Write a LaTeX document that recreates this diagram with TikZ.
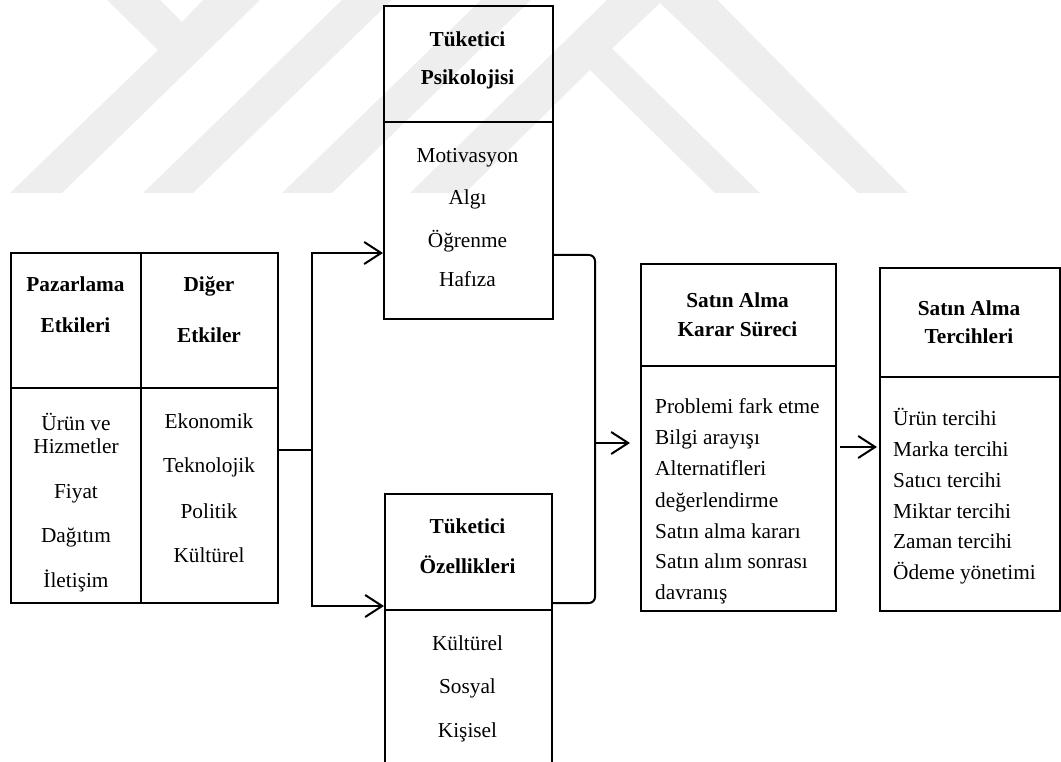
\documentclass[tikz,border=0pt]{standalone}
\usepackage{fontspec}
\setmainfont{Liberation Serif}
\usetikzlibrary{arrows.meta}
\begin{document}
\begin{tikzpicture}[x=1pt,y=-1pt,
  box/.style={draw, line width=2pt, rectangle, inner sep=0pt, anchor=north west},
  txt/.style={inner sep=0pt, anchor=base, font=\fontsize{21.3}{25}\selectfont},
  hd/.style={txt, font=\fontsize{21.3}{25}\selectfont\bfseries},
  lst/.style={txt, anchor=base west},
  link/.style={line width=2pt},
  arr/.style={link, -{Straight Barb[length=17pt,width=22pt]}},
  wm/.style={fill={rgb,255:red,238;green,238;blue,238}}]

\useasboundingbox (0,0) rectangle (1061,762);
\clip (0,0) rectangle (1061,762);

% faint background logo
\fill[wm] (107,0) -- (158,50) -- (10,193) -- (62,193) -- (260,0) -- (203,0) -- (182,22) -- (160,0) -- cycle;
\fill[wm] (143,193) -- (193,193) -- (392,0) -- (342,0) -- cycle;
\fill[wm] (282,193) -- (332,193) -- (531,0) -- (481,0) -- cycle;
\fill[wm] (410,193) -- (663,-55) -- (908,193) -- (858,193) -- (660,3) -- (460,193) -- cycle;
\fill[wm] (415,193) -- (588,25) -- (760,193) -- (715,193) -- (590,70) -- (465,193) -- cycle;

% boxes
\node[box, minimum width=267pt, minimum height=350pt] (inf) at (10,252) {};
\node[box, minimum width=169pt, minimum height=313pt] (psy) at (383,5) {};
\node[box, minimum width=167pt, minimum height=320pt] (ozel) at (384,493) {};
\node[box, minimum width=195pt, minimum height=347pt] (karar) at (640,263) {};
\node[box, minimum width=180pt, minimum height=343pt] (tercih) at (879,267) {};

% header / body dividers
\draw[link] (inf.west |- 0,388) -- (inf.east |- 0,388);
\draw[link] (inf.north -| 141,0) -- (inf.south -| 141,0);
\draw[link] (psy.west |- 0,122) -- (psy.east |- 0,122);
\draw[link] (ozel.west |- 0,610) -- (ozel.east |- 0,610);
\draw[link] (karar.west |- 0,366) -- (karar.east |- 0,366);
\draw[link] (tercih.west |- 0,377) -- (tercih.east |- 0,377);

% influences
\node[hd] (pz1) at (75.5,292) {Pazarlama};
\node[hd] (pz2) at (75.5,333) {Etkileri};
\node[hd] (dg1) at (209,292) {Diğer};
\node[hd] (dg2) at (209,342) {Etkiler};
\foreach \t/\y [count=\i] in {Ürün ve/430, Hizmetler/453, Fiyat/498, Dağıtım/542, İletişim/587}
  \node[txt] (pzl\i) at (76,\y) {\t};
\foreach \t/\y [count=\i] in {Ekonomik/428, Teknolojik/472, Politik/518, Kültürel/562}
  \node[txt] (dgl\i) at (209,\y) {\t};

% consumer psychology
\node[hd] (ps1) at (467.5,47) {Tüketici};
\node[hd] (ps2) at (467.5,85) {Psikolojisi};
\foreach \t/\y [count=\i] in {Motivasyon/163, Algı/205, Öğrenme/248, Hafıza/287}
  \node[txt] (psl\i) at (467.5,\y) {\t};

% consumer characteristics
\node[hd] (oz1) at (467.5,533) {Tüketici};
\node[hd] (oz2) at (467.5,573) {Özellikleri};
\foreach \t/\y [count=\i] in {Kültürel/650, Sosyal/693, Kişisel/737}
  \node[txt] (ozl\i) at (467.5,\y) {\t};

% decision process
\node[hd] (kr1) at (737.5,308) {Satın Alma};
\node[hd] (kr2) at (737.5,336) {Karar Süreci};
\foreach \t/\y [count=\i] in {Problemi fark etme/413, Bilgi arayışı/444, Alternatifleri/475,
    değerlendirme/507, Satın alma kararı/538, Satın alım sonrası/568, davranış/599}
  \node[lst] (krl\i) at (655,\y) {\t};

% purchase preferences
\node[hd] (tc1) at (969,316) {Satın Alma};
\node[hd] (tc2) at (969,343) {Tercihleri};
\foreach \t/\y [count=\i] in {Ürün tercihi/425, Marka tercihi/456, Satıcı tercihi/487,
    Miktar tercihi/518, Zaman tercihi/548, Ödeme yönetimi/579}
  \node[lst] (tcl\i) at (893,\y) {\t};

% connectors
\coordinate (jm) at (312,450);
\coordinate (jt) at (312,253);
\coordinate (jb) at (312,606);
\draw[link] (inf.east |- jm) -- (jm);
\draw[arr] (jm) -- (jt) -- (psy.west |- jt);
\draw[arr] (jm) -- (jb) -- (ozel.west |- jb);

\coordinate (bt) at (595,255);
\coordinate (bb) at (595,603);
\coordinate (bm) at (595,443);
\draw[link, rounded corners=6pt] (psy.east |- bt) -- (bt) -- (bb) -- (ozel.east |- bb);
\draw[arr, shorten >=10pt] (bm) -- (karar.west |- bm);

\coordinate (km) at (840,447);
\draw[arr, shorten >=2pt] (km) -- (tercih.west |- km);
\end{tikzpicture}
\end{document}
